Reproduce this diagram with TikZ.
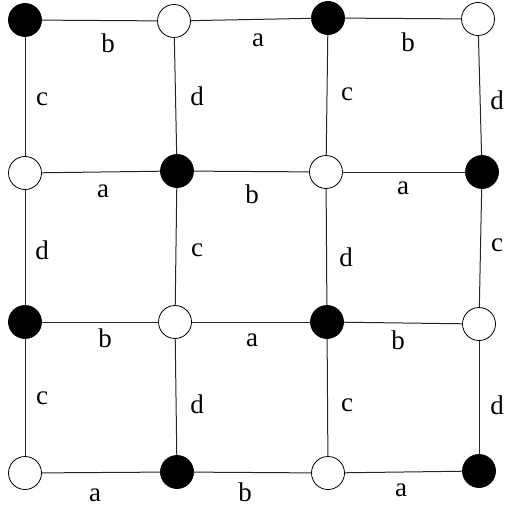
\documentclass[tikz,border=0pt]{standalone}
\usepackage{fontspec}
\setmainfont{Liberation Serif}
\begin{document}
\begin{tikzpicture}[x=1pt,y=-1pt,
  bnode/.style={circle,draw=black,fill=black,minimum size=33pt,inner sep=0pt,line width=0.8pt},
  wnode/.style={circle,draw=black,fill=white,minimum size=33pt,inner sep=0pt,line width=0.8pt},
  lbl/.style={inner sep=0pt,font=\fontsize{27}{31}\selectfont},
  edgeline/.style={draw=black!85,line width=1pt}]
\useasboundingbox (0,0) rectangle (504,508);
% nodes
\node[bnode] (n11) at (25,20) {};
\node[wnode] (n12) at (174,21) {};
\node[bnode] (n13) at (328,18) {};
\node[wnode] (n14) at (478,19) {};
\node[wnode] (n21) at (25,173) {};
\node[bnode] (n22) at (177,171) {};
\node[wnode] (n23) at (326,172) {};
\node[bnode] (n24) at (482,172) {};
\node[bnode] (n31) at (25,322) {};
\node[wnode] (n32) at (175,322) {};
\node[bnode] (n33) at (327,322) {};
\node[wnode] (n34) at (479,324) {};
\node[wnode] (n41) at (25,473) {};
\node[bnode] (n42) at (177,472) {};
\node[wnode] (n43) at (328,473) {};
\node[bnode] (n44) at (479,471) {};
% horizontal edges
\draw[edgeline] (n11) -- (n12);
\draw[edgeline] (n12) -- (n13);
\draw[edgeline] (n13) -- (n14);
\draw[edgeline] (n21) -- (n22);
\draw[edgeline] (n22) -- (n23);
\draw[edgeline] (n23) -- (n24);
\draw[edgeline] (n31) -- (n32);
\draw[edgeline] (n32) -- (n33);
\draw[edgeline] (n33) -- (n34);
\draw[edgeline] (n41) -- (n42);
\draw[edgeline] (n42) -- (n43);
\draw[edgeline] (n43) -- (n44);
% vertical edges
\draw[edgeline] (n11) -- (n21);
\draw[edgeline] (n21) -- (n31);
\draw[edgeline] (n31) -- (n41);
\draw[edgeline] (n12) -- (n22);
\draw[edgeline] (n22) -- (n32);
\draw[edgeline] (n32) -- (n42);
\draw[edgeline] (n13) -- (n23);
\draw[edgeline] (n23) -- (n33);
\draw[edgeline] (n33) -- (n43);
\draw[edgeline] (n14) -- (n24);
\draw[edgeline] (n24) -- (n34);
\draw[edgeline] (n34) -- (n44);
% horizontal labels
\node[lbl] (h11) at (108,43) {b};
\node[lbl] (h12) at (258,40) {a};
\node[lbl] (h13) at (408,42) {b};
\node[lbl] (h21) at (103,191) {a};
\node[lbl] (h22) at (252,194) {b};
\node[lbl] (h23) at (403,188) {a};
\node[lbl] (h31) at (105,338) {b};
\node[lbl] (h32) at (252,340) {a};
\node[lbl] (h33) at (398,340) {b};
\node[lbl] (h41) at (95,495) {a};
\node[lbl] (h42) at (245,492) {b};
\node[lbl] (h43) at (401,490) {a};
% vertical labels
\node[lbl] (v11) at (42,99) {c};
\node[lbl] (v12) at (42,250) {d};
\node[lbl] (v13) at (42,398) {c};
\node[lbl] (v21) at (197,96) {d};
\node[lbl] (v22) at (197,250) {c};
\node[lbl] (v23) at (197,404) {d};
\node[lbl] (v31) at (347,94) {c};
\node[lbl] (v32) at (346,257) {d};
\node[lbl] (v33) at (347,405) {c};
\node[lbl] (v41) at (497,100) {d};
\node[lbl] (v42) at (497,245) {c};
\node[lbl] (v43) at (497,405) {d};
\end{tikzpicture}
\end{document}
